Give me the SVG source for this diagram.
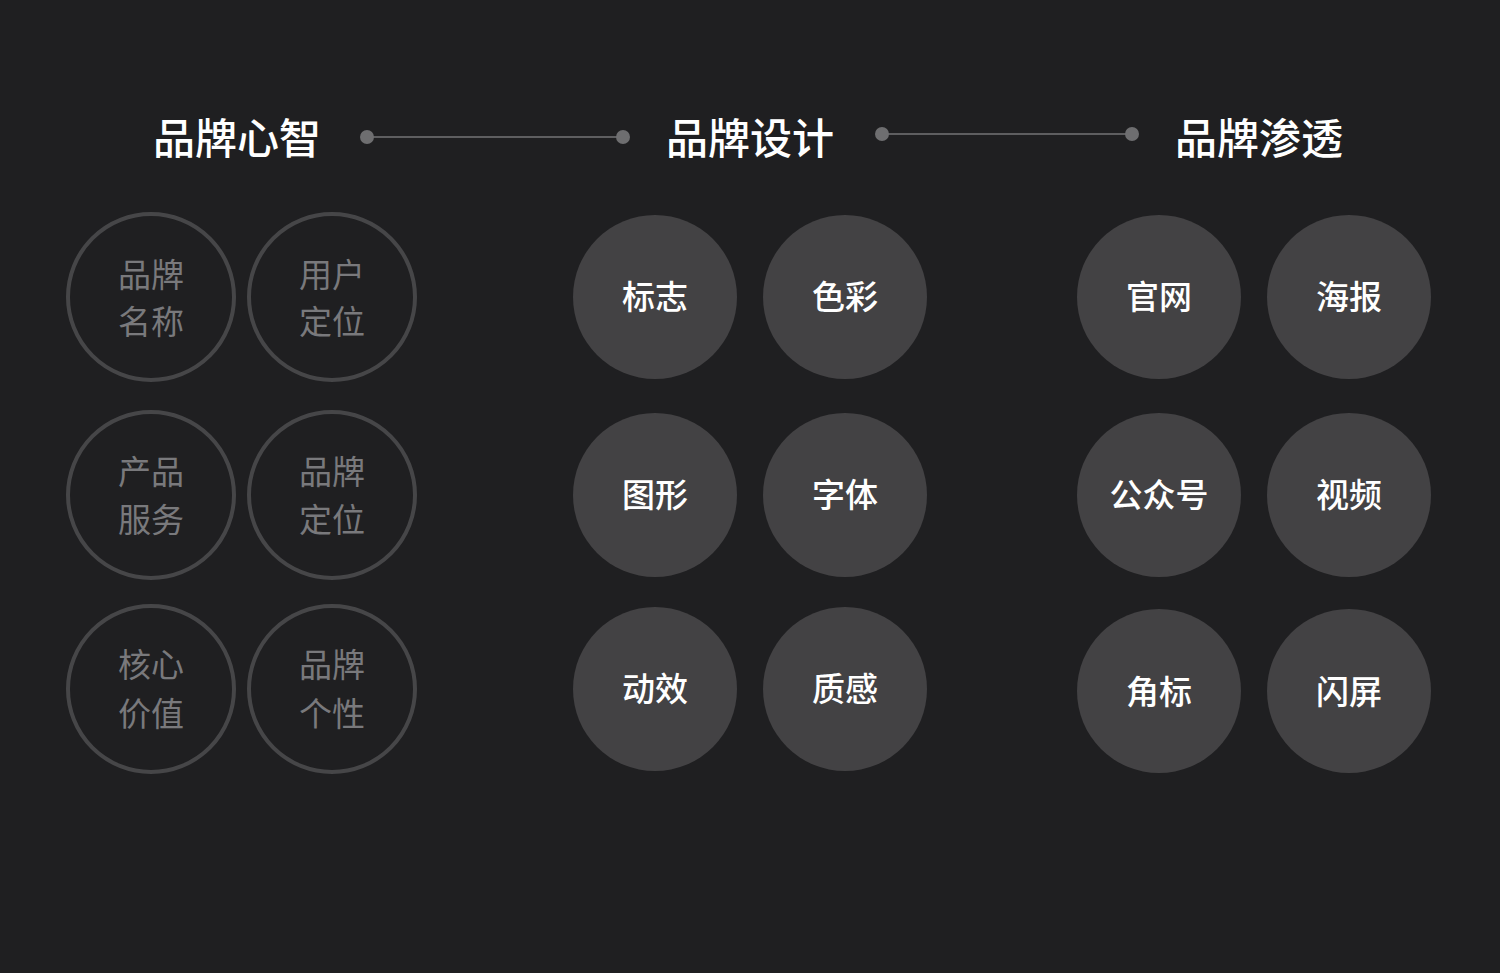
<svg xmlns="http://www.w3.org/2000/svg" width="1500" height="973" viewBox="0 0 1500 973">
<style>
.title{font-family:"Noto Sans CJK SC","Noto Sans",sans-serif;font-size:42px;font-weight:500;fill:#ffffff;text-anchor:middle;dominant-baseline:central}
.ring{fill:none;stroke:#464648;stroke-width:4}
.ringtxt{font-family:"Noto Sans CJK SC","Noto Sans",sans-serif;font-size:33px;fill:#79797c;text-anchor:middle;dominant-baseline:central}
.disc{fill:#434244}
.disctxt{font-family:"Noto Sans CJK SC","Noto Sans",sans-serif;font-size:33px;font-weight:500;fill:#ffffff;text-anchor:middle;dominant-baseline:central}
.conn{stroke:#5e5e60;stroke-width:2;fill:none}
.dot{fill:#6e6e70}
</style>
<rect width="1500" height="973" fill="#1f1f21"/>
<g id="titles">
<text class="title" x="237" y="135">品牌心智</text>
<text class="title" x="750" y="135">品牌设计</text>
<text class="title" x="1259" y="135">品牌渗透</text>
</g>
<g id="connectors">
<line class="conn" x1="367" y1="137" x2="623" y2="137"/>
<circle class="dot" cx="367" cy="137" r="7"/>
<circle class="dot" cx="623" cy="137" r="7"/>
<line class="conn" x1="882" y1="134" x2="1132" y2="134"/>
<circle class="dot" cx="882" cy="134" r="7"/>
<circle class="dot" cx="1132" cy="134" r="7"/>
</g>
<g id="n-pinpai-mingcheng"><circle class="ring" cx="151" cy="297" r="83"/><text class="ringtxt" x="151" y="273">品牌</text><text class="ringtxt" x="151" y="320">名称</text></g>
<g id="n-yonghu-dingwei"><circle class="ring" cx="332" cy="297" r="83"/><text class="ringtxt" x="332" y="273">用户</text><text class="ringtxt" x="332" y="320">定位</text></g>
<g id="n-chanpin-fuwu"><circle class="ring" cx="151" cy="495" r="83"/><text class="ringtxt" x="151" y="470">产品</text><text class="ringtxt" x="151" y="518">服务</text></g>
<g id="n-pinpai-dingwei"><circle class="ring" cx="332" cy="495" r="83"/><text class="ringtxt" x="332" y="470">品牌</text><text class="ringtxt" x="332" y="518">定位</text></g>
<g id="n-hexin-jiazhi"><circle class="ring" cx="151" cy="689" r="83"/><text class="ringtxt" x="151" y="663">核心</text><text class="ringtxt" x="151" y="712">价值</text></g>
<g id="n-pinpai-gexing"><circle class="ring" cx="332" cy="689" r="83"/><text class="ringtxt" x="332" y="663">品牌</text><text class="ringtxt" x="332" y="712">个性</text></g>
<g id="n-biaozhi"><circle class="disc" cx="655" cy="297" r="82"/><text class="disctxt" x="655" y="295">标志</text></g>
<g id="n-secai"><circle class="disc" cx="845" cy="297" r="82"/><text class="disctxt" x="845" y="295">色彩</text></g>
<g id="n-tuxing"><circle class="disc" cx="655" cy="495" r="82"/><text class="disctxt" x="655" y="493">图形</text></g>
<g id="n-ziti"><circle class="disc" cx="845" cy="495" r="82"/><text class="disctxt" x="845" y="493">字体</text></g>
<g id="n-dongxiao"><circle class="disc" cx="655" cy="689" r="82"/><text class="disctxt" x="655" y="687">动效</text></g>
<g id="n-zhigan"><circle class="disc" cx="845" cy="689" r="82"/><text class="disctxt" x="845" y="687">质感</text></g>
<g id="n-guanwang"><circle class="disc" cx="1159" cy="297" r="82"/><text class="disctxt" x="1159" y="295">官网</text></g>
<g id="n-haibao"><circle class="disc" cx="1349" cy="297" r="82"/><text class="disctxt" x="1349" y="295">海报</text></g>
<g id="n-gongzhonghao"><circle class="disc" cx="1159" cy="495" r="82"/><text class="disctxt" x="1159" y="493">公众号</text></g>
<g id="n-shipin"><circle class="disc" cx="1349" cy="495" r="82"/><text class="disctxt" x="1349" y="493">视频</text></g>
<g id="n-jiaobiao"><circle class="disc" cx="1159" cy="691" r="82"/><text class="disctxt" x="1159" y="690">角标</text></g>
<g id="n-shanping"><circle class="disc" cx="1349" cy="691" r="82"/><text class="disctxt" x="1349" y="690">闪屏</text></g>
</svg>
